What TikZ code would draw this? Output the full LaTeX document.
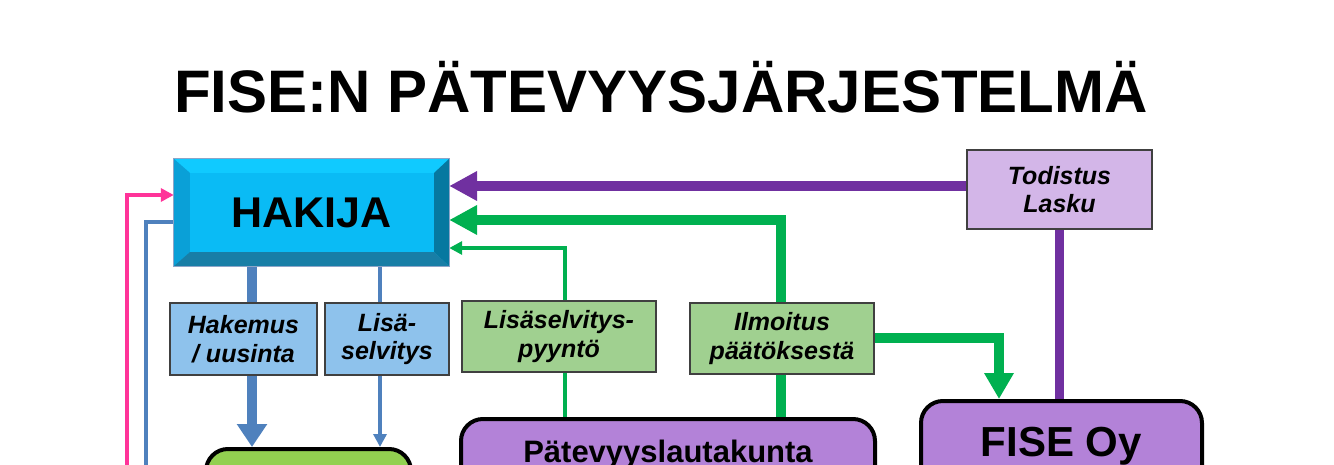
\documentclass[tikz,border=0pt]{standalone}
\usepackage{fontspec}
\setmainfont{Liberation Sans}
\usetikzlibrary{arrows.meta,backgrounds}
\definecolor{hakijaFace}{RGB}{10,187,245}
\definecolor{hakijaTop}{RGB}{16,202,255}
\definecolor{hakijaLeft}{RGB}{10,160,215}
\definecolor{hakijaRight}{RGB}{6,120,160}
\definecolor{hakijaBottom}{RGB}{24,126,166}
\definecolor{hakijaReuna}{RGB}{140,165,200}
\definecolor{sininen}{RGB}{79,129,189}
\definecolor{pinkki}{RGB}{255,51,153}
\definecolor{vihrea}{RGB}{0,176,80}
\definecolor{violetti}{RGB}{112,48,160}
\definecolor{viestiSin}{RGB}{142,194,236}
\definecolor{viestiVih}{RGB}{160,208,144}
\definecolor{viestiVio}{RGB}{211,182,232}
\definecolor{laatikkoVih}{RGB}{146,208,80}
\definecolor{laatikkoVio}{RGB}{179,130,216}
\newcommand{\fillBevel}[1]{\fill[#1]}

\begin{document}
\begin{tikzpicture}[x=1pt,y=-1pt,
    otsikko/.style={font=\fontsize{60}{62}\selectfont\bfseries, anchor=base, inner sep=0pt},
    viesti/.style={draw=black!75, line width=1.5pt, inner sep=0pt, align=center,
      font=\fontsize{25}{28.5}\selectfont\bfseries\itshape},
    laatikko/.style={draw=black, line width=4pt, rounded corners=22pt, inner sep=0pt},
    paksu/.style={line width=9.5pt},
    ohut/.style={line width=4pt},
    isoKarki/.style={-{Triangle[length=28pt,width=28pt]}},
    pieniKarki/.style={-{Triangle[length=13pt,width=13pt]}}]

      \useasboundingbox (0,0) rectangle (1334,465);

      % otsikko
      \node[otsikko] (otsikko) at (661,113) {FISE:N PÄTEVYYSJÄRJESTELMÄ};

      % hakija, viistetty laatikko
      \node[fill=hakijaFace, minimum width=275pt, minimum height=107pt, inner sep=0pt] (hakija) at (311.5,212.5) {};
      \coordinate (hNW) at ([xshift=16pt,yshift=-14pt]hakija.north west);
      \coordinate (hNE) at ([xshift=-15pt,yshift=-14pt]hakija.north east);
      \coordinate (hSW) at ([xshift=16pt,yshift=14pt]hakija.south west);
      \coordinate (hSE) at ([xshift=-15pt,yshift=14pt]hakija.south east);
      \fillBevel{hakijaTop} (hakija.north west) -- (hakija.north east) -- (hNE) -- (hNW) -- cycle;
      \fillBevel{hakijaLeft} (hakija.north west) -- (hNW) -- (hSW) -- (hakija.south west) -- cycle;
      \fillBevel{hakijaRight} (hakija.north east) -- (hNE) -- (hSE) -- (hakija.south east) -- cycle;
      \fillBevel{hakijaBottom} (hakija.south west) -- (hSW) -- (hSE) -- (hakija.south east) -- cycle;
      \draw[hakijaReuna, line width=1pt] (hakija.north west) rectangle (hakija.south east);
      \node[font=\fontsize{43}{45}\selectfont\bfseries] at (hakija) {HAKIJA};

      % viestit
      \node[viesti, fill=viestiSin, minimum width=147pt, minimum height=72pt] (hakemus) at (243.5,339) {Hakemus\\/ uusinta};
      \node[viesti, fill=viestiSin, minimum width=124pt, minimum height=72pt] (lisa) at (387,339) {Lisä-\\selvitys};
      \node[viesti, fill=viestiVih, minimum width=194pt, minimum height=71pt] (pyynto) at (559,336.5) {Lisäselvitys-\\pyyntö};
      \node[viesti, fill=viestiVih, minimum width=184pt, minimum height=71pt] (ilmoitus) at (782,338.5) {Ilmoitus\\päätöksestä};
      \node[viesti, fill=viestiVio, minimum width=185pt, minimum height=79pt] (todistus) at (1059.5,189.5) {Todistus\\Lasku};

      % alalaatikot
      \node[laatikko, fill=laatikkoVih, minimum width=205pt, minimum height=80pt] (vihreaLaatikko) at (308.5,489) {};
      \node[laatikko, fill=laatikkoVio, minimum width=414pt, minimum height=70pt,
        font=\fontsize{31}{33}\selectfont\bfseries] (lautakunta) at (668,454) {Pätevyyslautakunta};
      \node[laatikko, fill=laatikkoVio, minimum width=281pt, minimum height=91pt,
        font=\fontsize{42}{44}\selectfont\bfseries] (fise) at (1061.5,446.5) {FISE Oy};

      % apupisteet
      \coordinate (hx) at (252,0);
      \coordinate (lx) at (380,0);
      \coordinate (px) at (565,248);
      \coordinate (ix) at (781,220);
      \coordinate (ty) at (0,186);
      \coordinate (fx) at (999,338);
      \coordinate (pinkAla) at (127,470);
      \coordinate (py) at (127,195);
      \coordinate (sinAla) at (146,470);
      \coordinate (sy) at (146,222);

      \begin{scope}[on background layer]
      \draw[sininen, paksu, -{Triangle[length=23pt,width=29pt]}] (hx |- hakija.south) -- (hx |- vihreaLaatikko.north);
      \draw[sininen, ohut, pieniKarki] (lx |- hakija.south) -- (lx |- vihreaLaatikko.north);
      \draw[vihrea, ohut, pieniKarki] (px |- lautakunta.north) |- (hakija.east |- px);
      \draw[vihrea, paksu, isoKarki] (ix |- lautakunta.north) |- (hakija.east |- ix);
      \draw[violetti, paksu, isoKarki] (todistus.west |- ty) -- (hakija.east |- ty);
      \draw[violetti, paksu] (todistus.south) -- (todistus.south |- fise.north);
      \draw[vihrea, paksu, -{Triangle[length=26pt,width=28pt]}] (ilmoitus.east |- fx) -| (fx |- fise.north);
      \draw[pinkki, ohut, pieniKarki] (pinkAla) |- (hakija.west |- py);
      \draw[sininen, ohut] (sinAla) |- (hakija.west |- sy);
      \end{scope}

    \end{tikzpicture}
\end{document}
